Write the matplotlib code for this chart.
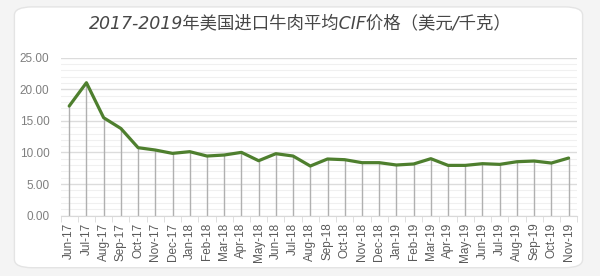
import matplotlib
matplotlib.use("Agg")
import matplotlib.pyplot as plt
from matplotlib.patches import FancyBboxPatch
from matplotlib.ticker import MultipleLocator, FixedLocator

months = ["Jun-17", "Jul-17", "Aug-17", "Sep-17", "Oct-17", "Nov-17", "Dec-17",
          "Jan-18", "Feb-18", "Mar-18", "Apr-18", "May-18", "Jun-18", "Jul-18",
          "Aug-18", "Sep-18", "Oct-18", "Nov-18", "Dec-18", "Jan-19", "Feb-19",
          "Mar-19", "Apr-19", "May-19", "Jun-19", "Jul-19", "Aug-19", "Sep-19",
          "Oct-19", "Nov-19"]
price = [17.35, 21.04, 15.5, 13.8, 10.76, 10.39, 9.86, 10.13, 9.44, 9.6, 10.02,
         8.7, 9.81, 9.44, 7.86, 8.97, 8.86, 8.39, 8.39, 8.02, 8.18, 9.02, 7.96,
         7.96, 8.23, 8.12, 8.54, 8.65, 8.33, 9.12]
yticks = [0, 5, 10, 15, 20, 25]
title = "2017-2019年美国进口牛肉平均CIF价格（美元/千克）"

plt.rcParams['font.family'] = ['Liberation Sans', 'Noto Sans CJK SC', 'DejaVu Sans']

fig = plt.figure(figsize=(6, 2.76), dpi=100)
fig.patch.set_facecolor("#F4F4F4")
card = FancyBboxPatch((0.024, 0.03), 0.947, 0.945, boxstyle="round,pad=0,rounding_size=0.03",
                      transform=fig.transFigure, facecolor="white", edgecolor="#E4E4E4",
                      linewidth=1, zorder=-5)
fig.patches.append(card)

ax = fig.add_axes([0.101, 0.2185, 0.861, 0.5725])
ax.set_zorder(2)
ax.set_facecolor("none")
x = list(range(len(months)))

ax.vlines(x, 0, price, color="#B0B0B0", linewidth=1, zorder=2)
ax.plot(x, price, color="#4E7F2E", linewidth=2.3, solid_capstyle="round", zorder=3)

ax.set_ylim(0, 25)
ax.set_xlim(-0.5, len(months) - 0.5)
ax.set_yticks(yticks)
ax.set_yticklabels(["%.2f" % v for v in yticks])
ax.yaxis.set_minor_locator(MultipleLocator(1))
ax.grid(which="major", axis="y", color="#DCDCDC", linewidth=1)
ax.grid(which="minor", axis="y", color="#F0F0F0", linewidth=0.8)
ax.set_axisbelow(True)

ax.set_xticks(x)
ax.set_xticklabels(months, rotation=90)
ax.xaxis.set_minor_locator(FixedLocator([i - 0.5 for i in range(len(months) + 1)]))
ax.tick_params(axis="x", which="major", length=0, pad=5, labelsize=8.5, colors="#595959")
ax.tick_params(axis="x", which="minor", length=4, color="#D9D9D9", direction="out")
ax.tick_params(axis="y", which="both", length=0, labelsize=8.5, colors="#7F7F7F", pad=8)

for s in ["top", "right", "left"]:
    ax.spines[s].set_visible(False)
ax.spines["bottom"].set_color("#D9D9D9")

fig.text(0.5, 0.915, title, ha="center", va="center", fontsize=12.5, style="italic",
         color="#474747", family=['DejaVu Sans', 'Noto Sans CJK SC'])

fig.savefig("out.png", dpi=100, facecolor=fig.get_facecolor())
